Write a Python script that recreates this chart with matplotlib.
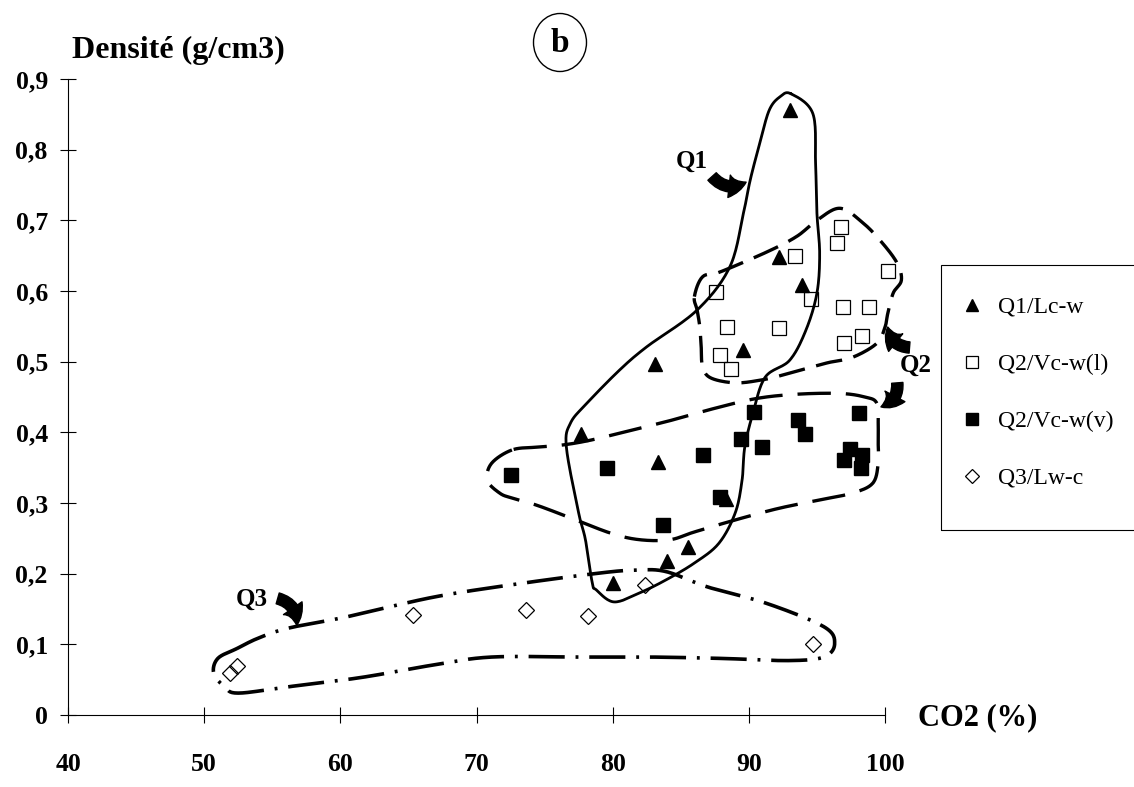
import numpy as np
import matplotlib
matplotlib.use('Agg')
import matplotlib.pyplot as plt
from matplotlib.patches import Ellipse, Rectangle

plt.rcParams['font.family'] = ['Liberation Serif', 'DejaVu Serif']

# data: CO2 (%) and density (g/cm3)
q1_co2 = [93.0, 92.2, 93.9, 89.6, 83.1, 77.7, 83.3, 88.3, 85.5, 84.0, 80.0]
q1_dens = [0.856, 0.648, 0.608, 0.517, 0.497, 0.397, 0.358, 0.306, 0.238, 0.218, 0.187]

q2l_co2 = [93.4, 96.8, 96.5, 100.2, 87.6, 94.6, 96.9, 98.8, 88.4, 92.2, 98.3, 97.0, 87.9, 88.7]
q2l_dens = [0.649, 0.691, 0.668, 0.628, 0.599, 0.588, 0.577, 0.577, 0.549, 0.548, 0.537, 0.527, 0.509, 0.489]

q2v_co2 = [72.5, 79.6, 86.6, 90.4, 89.4, 91.0, 93.6, 94.1, 98.1, 97.4, 97.0, 98.3, 98.2, 87.9, 83.7]
q2v_dens = [0.340, 0.350, 0.368, 0.429, 0.390, 0.379, 0.417, 0.398, 0.427, 0.377, 0.361, 0.368, 0.349, 0.309, 0.269]

q3_co2 = [51.9, 52.4, 65.3, 73.6, 78.2, 82.4, 94.7]
q3_dens = [0.060, 0.069, 0.141, 0.148, 0.140, 0.184, 0.101]

series_labels = ['Q1/Lc-w', 'Q2/Vc-w(l)', 'Q2/Vc-w(v)', 'Q3/Lw-c']

x_ticks = [40, 50, 60, 70, 80, 90, 100]
y_ticks = [0, 0.1, 0.2, 0.3, 0.4, 0.5, 0.6, 0.7, 0.8, 0.9]
y_tick_labels = ['0', '0,1', '0,2', '0,3', '0,4', '0,5', '0,6', '0,7', '0,8', '0,9']

# hand drawn envelopes around each population (outline points)
env_q1_x = [93.1, 94.7, 94.9, 95.0, 95.2, 95.0, 94.2, 93.0, 91.2, 90.3, 89.7, 89.5, 89.0, 87.8,
            86.0, 83.9, 82.0, 80.1, 78.8, 78.5, 78.0, 77.5, 76.6, 76.9, 78.1, 80.5, 82.5, 86.2,
            88.6, 89.6, 90.1, 90.8, 91.5, 92.3]
env_q1_y = [0.879, 0.851, 0.781, 0.710, 0.653, 0.597, 0.545, 0.502, 0.478, 0.427, 0.379, 0.332,
            0.286, 0.243, 0.215, 0.191, 0.173, 0.160, 0.177, 0.187, 0.248, 0.286, 0.379, 0.413,
            0.441, 0.488, 0.521, 0.573, 0.634, 0.710, 0.757, 0.809, 0.856, 0.875]

env_q2l_x = [86.0, 86.6, 87.9, 91.3, 93.5, 95.0, 96.7, 98.4, 99.8, 100.9, 101.2, 100.6, 100.2,
             100.0, 99.4, 97.6, 95.7, 92.5, 90.9, 89.0, 87.2, 86.6, 86.5, 86.4, 86.2]
env_q2l_y = [0.592, 0.620, 0.627, 0.655, 0.677, 0.700, 0.717, 0.696, 0.668, 0.639, 0.615, 0.597,
             0.568, 0.549, 0.526, 0.506, 0.498, 0.481, 0.474, 0.470, 0.477, 0.493, 0.521, 0.549,
             0.573]

env_q2v_x = [72.6, 71.1, 70.8, 71.7, 72.6, 74.4, 76.9, 79.9, 82.0, 84.2, 86.0, 89.0, 92.1, 95.1,
             97.6, 99.1, 99.5, 99.5, 99.5, 99.4, 98.5, 96.7, 93.6, 90.6, 87.5, 84.5, 81.4, 78.4,
             76.3, 74.4]
env_q2v_y = [0.375, 0.356, 0.332, 0.314, 0.307, 0.297, 0.279, 0.257, 0.248, 0.248, 0.259, 0.276,
             0.292, 0.304, 0.314, 0.328, 0.356, 0.379, 0.408, 0.441, 0.450, 0.455, 0.454, 0.448,
             0.434, 0.418, 0.403, 0.389, 0.382, 0.379]

env_q3_x = [52.4, 51.0, 50.7, 51.5, 52.5, 56.2, 61.5, 66.9, 71.1, 77.5, 82.8, 88.1, 92.9, 95.5,
            96.3, 95.5, 91.3, 87.0, 83.9, 81.7, 79.1, 73.2, 66.9, 60.5, 56.2, 54.0]
env_q3_y = [0.094, 0.080, 0.059, 0.040, 0.031, 0.040, 0.053, 0.071, 0.082, 0.082, 0.082, 0.080,
            0.077, 0.082, 0.101, 0.125, 0.158, 0.181, 0.203, 0.205, 0.201, 0.186, 0.167, 0.139,
            0.123, 0.109]


def closed_curve(xs, ys, n=16):
    # periodic Catmull-Rom through the outline points
    p = np.column_stack([xs, ys])
    m = len(p)
    t = np.linspace(0, 1, n, endpoint=False)[:, None]
    segs = []
    for i in range(m):
        p0, p1, p2, p3 = p[i - 1], p[i], p[(i + 1) % m], p[(i + 2) % m]
        segs.append(0.5 * (2 * p1 + (p2 - p0) * t
                           + (2 * p0 - 5 * p1 + 4 * p2 - p3) * t ** 2
                           + (3 * p1 - p0 - 3 * p2 + p3) * t ** 3))
    out = np.vstack(segs + [p[:1]])
    return out[:, 0], out[:, 1]


W, H = 1134, 787
fig = plt.figure(figsize=(W / 100, H / 100), dpi=100)
ax = fig.add_axes([68 / W, 72 / H, 1 - 68 / W, 715 / H])
ax.set_xlim(40, 40 + (W - 68) / 13.617)
ax.set_ylim(0, 715 / 706.7)

for side in ('top', 'right'):
    ax.spines[side].set_visible(False)
ax.spines['left'].set_bounds(0, 0.9)
ax.spines['bottom'].set_bounds(40, 100)
for side in ('left', 'bottom'):
    ax.spines[side].set_linewidth(0.8)

ax.set_xticks(x_ticks)
ax.set_xticklabels([str(v) for v in x_ticks], fontweight='bold')
ax.set_yticks(y_ticks)
ax.set_yticklabels(y_tick_labels, fontweight='bold')
ax.tick_params(direction='inout', length=11, width=0.8, labelsize=18.5)
ax.tick_params(axis='x', pad=22)
ax.tick_params(axis='y', pad=9)

# envelopes
ex, ey = closed_curve(env_q1_x, env_q1_y)
ax.plot(ex, ey, color='black', lw=2.0, solid_capstyle='round')
ex, ey = closed_curve(env_q2l_x, env_q2l_y)
ax.plot(ex, ey, color='black', lw=2.4, linestyle=(0, (8, 3.5)))
ex, ey = closed_curve(env_q2v_x, env_q2v_y)
ax.plot(ex, ey, color='black', lw=2.4, linestyle=(0, (10, 4.5)))
ex, ey = closed_curve(env_q3_x, env_q3_y)
ax.plot(ex, ey, color='black', lw=2.6, linestyle=(0, (10, 3, 0.8, 3)))

# points
ax.plot(q1_co2, q1_dens, linestyle='none', marker='^', ms=10, color='black', label=series_labels[0])
ax.plot(q2l_co2, q2l_dens, linestyle='none', marker='s', ms=10, mfc='none', mec='black',
        mew=0.9, label=series_labels[1])
ax.plot(q2v_co2, q2v_dens, linestyle='none', marker='s', ms=10, color='black', label=series_labels[2])
ax.plot(q3_co2, q3_dens, linestyle='none', marker='D', ms=8, mfc='none', mec='black',
        mew=0.9, label=series_labels[3])

# group labels with curved arrows
arrow = dict(arrowstyle='simple,head_length=0.7,head_width=0.9,tail_width=0.45',
             color='black', mutation_scale=18, shrinkA=0, shrinkB=0)
ax.text(85.8, 0.784, 'Q1', fontsize=18, fontweight='bold', ha='center', va='center')
ax.annotate('', xy=(89.8, 0.754), xytext=(87.3, 0.762),
            arrowprops=dict(arrow, connectionstyle='arc3,rad=0.4'))
ax.text(101.1, 0.495, 'Q2', fontsize=18, fontweight='bold', ha='left', va='center')
ax.annotate('', xy=(100.2, 0.549), xytext=(101.8, 0.520),
            arrowprops=dict(arrow, connectionstyle='arc3,rad=-0.4'))
ax.annotate('', xy=(99.7, 0.436), xytext=(100.9, 0.470),
            arrowprops=dict(arrow, connectionstyle='arc3,rad=-0.4'))
ax.text(53.5, 0.164, 'Q3', fontsize=18, fontweight='bold', ha='center', va='center')
ax.annotate('', xy=(56.8, 0.127), xytext=(55.4, 0.165),
            arrowprops=dict(arrow, connectionstyle='arc3,rad=-0.4'))

# axis titles
fig.text(72 / W, 1 - 58 / H, 'Densité (g/cm3)', fontsize=23, fontweight='bold',
         ha='left', va='baseline')
fig.text(918 / W, 1 - 725 / H, 'CO2 (%)', fontsize=22, fontweight='bold',
         ha='left', va='baseline')

# panel letter
fig.patches.append(Ellipse((560 / W, 1 - 42.5 / H), 53 / W, 58 / H, fill=False,
                           lw=1.0, color='black', transform=fig.transFigure))
fig.text(560 / W, 1 - 43 / H, 'b', fontsize=24, fontweight='bold', ha='center', va='center')

# legend, its frame runs past the right edge as in the scan
ax.legend(loc='upper left', bbox_to_anchor=(951 / W, 1 - 287 / H), bbox_transform=fig.transFigure,
          frameon=False, prop=dict(size=17), handlelength=1.0, handletextpad=0.6,
          labelspacing=1.5, borderpad=0.4, borderaxespad=0, numpoints=1, markerscale=0.9)
fig.patches.append(Rectangle((941 / W, 1 - 530 / H), 260 / W, 265 / H, fill=False,
                             lw=0.8, color='black', transform=fig.transFigure))

fig.savefig('out.png', dpi=100)
